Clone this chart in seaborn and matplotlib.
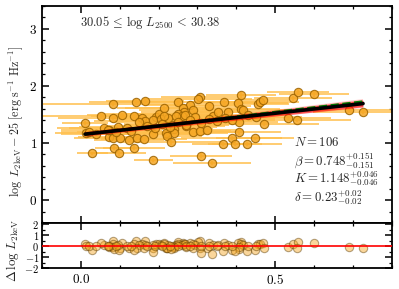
import numpy as np
import pandas as pd
import matplotlib
matplotlib.use("Agg")
import matplotlib.pyplot as plt
import seaborn as sns
from matplotlib.ticker import MultipleLocator

# ---------------- data ----------------
x_vals = [0.082,0.142,0.165,0.011,0.082,0.106,0.136,0.157,0.165,0.151,
          0.193,0.200,0.213,0.187,0.206,0.225,0.060,0.073,0.082,0.101,
          0.124,0.144,0.163,0.185,0.222,0.086,0.099,0.137,0.030,0.186,
          0.052,0.013,0.095,0.073,0.412,0.307,0.301,0.251,0.282,0.329,
          0.369,0.404,0.455,0.462,0.468,0.263,0.265,0.249,0.260,0.245,
          0.268,0.289,0.294,0.339,0.352,0.378,0.412,0.418,0.215,0.236,
          0.240,0.239,0.219,0.222,0.232,0.271,0.288,0.307,0.325,0.406,
          0.406,0.388,0.448,0.366,0.397,0.428,0.309,0.337,0.472,0.534,
          0.546,0.558,0.601,0.555,0.690,0.726,
          0.020,0.040,0.070,0.090,0.120,0.130,0.170,0.190,0.210,0.230,
          0.250,0.270,0.280,0.310,0.330,0.350,0.370,0.390,0.430,0.450]
y_vals = [1.68,1.72,1.74,1.35,1.44,1.49,1.48,1.44,1.39,1.37,
          1.46,1.51,1.61,1.40,1.42,1.44,1.26,1.11,1.08,1.08,
          1.05,1.08,1.07,1.15,1.15,0.92,0.82,0.92,0.82,0.70,
          1.47,1.18,1.28,1.23,1.84,1.80,1.77,1.71,1.66,1.65,
          1.71,1.70,1.68,1.72,1.75,1.61,1.55,1.51,1.47,1.47,
          1.49,1.58,1.46,1.48,1.54,1.55,1.60,1.57,1.47,1.32,
          1.24,1.18,1.17,1.13,1.02,1.29,1.20,1.21,1.22,1.19,
          1.36,1.09,1.08,0.98,0.98,0.98,0.78,0.65,1.34,1.44,
          1.78,1.89,1.85,1.40,1.57,1.55,
          1.20,1.15,1.22,1.19,1.27,1.21,1.30,1.26,1.33,1.28,
          1.36,1.32,1.40,1.35,1.42,1.38,1.44,1.41,1.49,1.46]
x_err = [0.18,0.12,0.10,0.06,0.14,0.09,0.11,0.08,0.13,0.07,
         0.10,0.15,0.12,0.09,0.11,0.14,0.12,0.08,0.10,0.06,
         0.09,0.07,0.11,0.13,0.10,0.05,0.07,0.08,0.04,0.05,
         0.20,0.08,0.10,0.07,0.09,0.10,0.14,0.16,0.12,0.11,
         0.09,0.13,0.08,0.10,0.07,0.15,0.11,0.13,0.18,0.12,
         0.09,0.14,0.10,0.12,0.08,0.11,0.10,0.13,0.16,0.12,
         0.10,0.14,0.11,0.09,0.13,0.10,0.12,0.08,0.09,0.11,
         0.10,0.13,0.10,0.08,0.07,0.09,0.08,0.10,0.14,0.11,
         0.10,0.08,0.09,0.14,0.12,0.13,
         0.07,0.09,0.12,0.10,0.15,0.08,0.11,0.13,0.10,0.12,
         0.09,0.11,0.14,0.10,0.12,0.09,0.13,0.11,0.10,0.12]
y_err = [0.04,0.05,0.05,0.03,0.04,0.04,0.05,0.04,0.03,0.04,
         0.04,0.05,0.04,0.03,0.04,0.04,0.03,0.04,0.05,0.03,
         0.04,0.03,0.04,0.04,0.03,0.04,0.05,0.04,0.03,0.04,
         0.04,0.03,0.04,0.03,0.05,0.05,0.04,0.04,0.05,0.04,
         0.04,0.03,0.04,0.05,0.04,0.04,0.03,0.04,0.04,0.03,
         0.04,0.05,0.04,0.03,0.04,0.04,0.05,0.04,0.03,0.04,
         0.04,0.03,0.04,0.04,0.05,0.04,0.03,0.04,0.04,0.05,
         0.04,0.04,0.03,0.04,0.04,0.03,0.05,0.04,0.04,0.03,
         0.04,0.05,0.04,0.03,0.04,0.04,
         0.03,0.04,0.04,0.03,0.04,0.04,0.03,0.04,0.04,0.03,
         0.04,0.04,0.03,0.04,0.04,0.03,0.04,0.04,0.03,0.04]

# fit parameters (from the annotation)
beta, beta_err = 0.748, 0.151
K, K_err = 1.148, 0.046
delta, delta_err = 0.23, 0.02
n_obj = 106
alt_slope, alt_icpt = 0.81, 1.14   # green dashed comparison fit

df = pd.DataFrame({"x": x_vals, "y": y_vals, "xerr": x_err, "yerr": y_err})
df["resid"] = df["y"] - (K + beta * df["x"])

# ---------------- style ----------------
sns.set_theme(style="ticks")
plt.rcParams.update({
    "font.family": "serif",
    "font.serif": ["cmr10", "DejaVu Serif"],
    "mathtext.fontset": "cm",
    "axes.formatter.use_mathtext": True,
    "axes.unicode_minus": True,
    "font.size": 10,
    "xtick.direction": "in", "ytick.direction": "in",
    "xtick.top": True, "ytick.right": True,
    "xtick.major.size": 5, "ytick.major.size": 5,
    "xtick.minor.size": 2.5, "ytick.minor.size": 2.5,
    "xtick.major.width": 1.1, "ytick.major.width": 1.1,
    "xtick.minor.width": 0.9, "ytick.minor.width": 0.9,
    "axes.linewidth": 1.3,
    "axes.edgecolor": "black",
    "xtick.color": "black", "ytick.color": "black",
    "xtick.labelsize": 9.5, "ytick.labelsize": 9.5,
})

fig = plt.figure(figsize=(3.99, 2.89), dpi=100)
ax = fig.add_axes([0.105, 0.2284, 0.877, 0.751])
axr = fig.add_axes([0.105, 0.0727, 0.877, 0.1557])

orange = "#F5A623"
ebar_col = "#FFC04D"
edge_col = "#9A6200"

# main panel error bars
ax.errorbar(df["x"], df["y"], xerr=df["xerr"], yerr=df["yerr"], fmt="none",
            ecolor=ebar_col, elinewidth=1.4, alpha=0.8, zorder=1)

# fit band (red) and lines
xs = np.linspace(df["x"].min(), df["x"].max(), 50)
pivot = 0.15
for f in np.linspace(-1, 1, 9):
    ax.plot(xs, K + beta * pivot + (beta + f * beta_err * 0.6) * (xs - pivot),
            color="red", lw=2.2, alpha=0.18, zorder=3, solid_capstyle="butt")
ax.fill_between(xs, K + beta * xs - 0.035 - 0.03 * xs, K + beta * xs + 0.035 + 0.03 * xs,
                color="red", alpha=0.45, lw=0, zorder=3)

sns.scatterplot(data=df, x="x", y="y", ax=ax, color=orange, edgecolor=edge_col,
                s=36, linewidth=0.8, alpha=0.85, zorder=2, legend=False)

fit_df = pd.DataFrame({"x": xs, "y": K + beta * xs, "y2": alt_icpt + alt_slope * xs})
sns.lineplot(data=fit_df, x="x", y="y2", ax=ax, color="green", lw=1.6,
             linestyle="--", zorder=4)
sns.lineplot(data=fit_df, x="x", y="y", ax=ax, color="black", lw=2.6, zorder=5)

ax.set_xlim(-0.1, 0.8)
ax.set_ylim(-0.4, 3.4)
ax.xaxis.set_major_locator(MultipleLocator(0.5))
ax.xaxis.set_minor_locator(MultipleLocator(0.1))
ax.yaxis.set_major_locator(MultipleLocator(1))
ax.yaxis.set_minor_locator(MultipleLocator(0.2))
ax.tick_params(axis="x", labelbottom=False)
ax.tick_params(which="both", top=True, right=True)
ax.set_xlabel("")
ax.set_ylabel(r"$\log\ L_{2\mathrm{keV}}-25\ [\mathrm{erg\ s^{-1}\ Hz^{-1}}]$", fontsize=8.7)
ax.yaxis.set_label_coords(-0.047, 0.47)

ax.text(0.11, 0.925, r"$30.05\,\leq\,\log\,L_{2500}\,<\,30.38$", transform=ax.transAxes,
        fontsize=9, ha="left", va="center")
ax.text(0.72, 0.37, r"$N=%d$" % n_obj, transform=ax.transAxes, fontsize=9.3, va="center")
ax.text(0.72, 0.29, r"$\beta=%.3f^{+%.3f}_{-%.3f}$" % (beta, beta_err, beta_err),
        transform=ax.transAxes, fontsize=9.3, va="center")
ax.text(0.72, 0.203, r"$K=%.3f^{+%.3f}_{-%.3f}$" % (K, K_err, K_err),
        transform=ax.transAxes, fontsize=9.3, va="center")
ax.text(0.72, 0.118, r"$\delta=%.2f^{+%.2f}_{-%.2f}$" % (delta, delta_err, delta_err),
        transform=ax.transAxes, fontsize=9.3, va="center")

# residual panel
sns.scatterplot(data=df, x="x", y="resid", ax=axr, color=orange, edgecolor="#5a3a00",
                s=36, linewidth=0.8, alpha=0.45, zorder=2, legend=False)
axr.axhline(0, color="red", lw=1.2, zorder=3)
axr.set_xlim(-0.1, 0.8)
axr.set_ylim(-2, 2.1)
axr.xaxis.set_major_locator(MultipleLocator(0.5))
axr.xaxis.set_minor_locator(MultipleLocator(0.1))
axr.yaxis.set_major_locator(MultipleLocator(1))
axr.yaxis.set_minor_locator(MultipleLocator(0.5))
axr.tick_params(which="both", top=True, right=True)
axr.tick_params(axis="y", labelsize=7.5, pad=2)
axr.set_xlabel("")
axr.set_ylabel(r"$\Delta\,\log\,L_{2\mathrm{keV}}$", fontsize=9.3)
axr.yaxis.set_label_coords(-0.06, 0.39)
axr.xaxis.set_major_formatter(matplotlib.ticker.FormatStrFormatter(r"$%.1f$"))

fig.savefig("out.png", dpi=100)
